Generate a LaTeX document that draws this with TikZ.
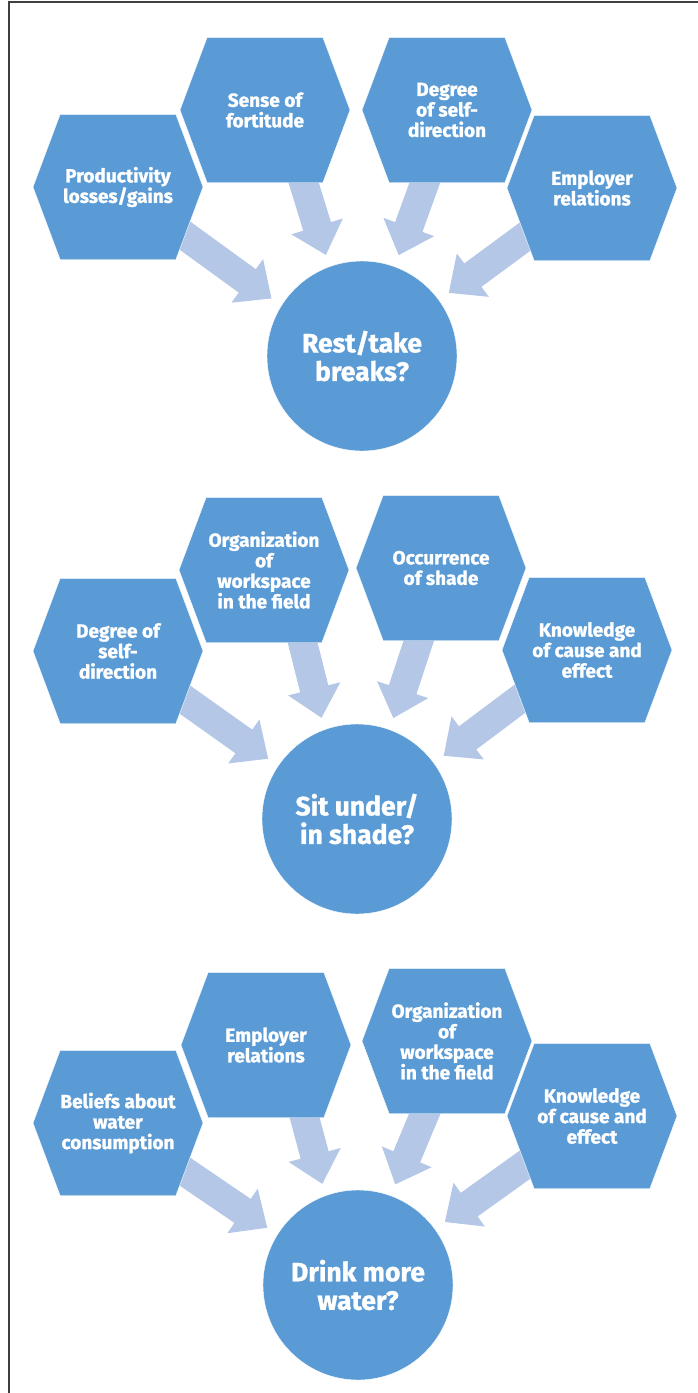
\documentclass[tikz,border=0pt]{standalone}
\usepackage{fontspec}
\setmainfont{Fira Sans}[BoldFeatures={FakeBold=1.2}]
\usetikzlibrary{shapes.symbols,arrows.meta,backgrounds}
\definecolor{hexblue}{RGB}{91,155,213}
\definecolor{arrowblue}{RGB}{180,199,231}
\tikzset{
  factor/.style={shape=signal, signal to=west and east, signal pointer angle=139, fill=hexblue, draw=white, thin, minimum width=170pt, minimum height=145pt, inner sep=0pt, text=white, align=center, font=\fontsize{19}{20.5}\selectfont\bfseries},
  behaviour/.style={shape=circle, fill=hexblue, draw=white, thin, minimum size=190pt, inner sep=0pt, text=white, align=center, font=\fontsize{26.5}{28.5}\selectfont\bfseries},
  push/.style={line width=29pt, draw=arrowblue, -{Triangle[width=52pt,length=30pt]}, shorten <=-12pt, shorten >=12pt}
}
\begin{document}
\begin{tikzpicture}[x=1pt, y=-1pt]
\useasboundingbox (0,0) rectangle (698,1393);
\draw[line width=1.8pt, draw=black!75] (9,1393) -- (9,2) -- (698,2);
% rest / take breaks
\node[factor] (prod1) at (118,187) {Productivity\\losses/gains};
\node[factor] (fort1) at (265,110) {Sense of\\fortitude};
\node[factor] (self1) at (447,110) {Degree\\of self-\\direction};
\node[factor] (empl1) at (592,188) {Employer\\relations};
\node[behaviour] (rest) at (362,356) {Rest/take\\breaks?};
% sit under / in shade
\node[factor] (self2) at (118,651) {Degree of\\self-\\direction};
\node[factor] (orga2) at (264,570) {Organization\\of\\workspace\\in the field};
\node[factor] (occu2) at (441,568) {Occurrence\\of shade};
\node[factor] (know2) at (587,650) {Knowledge\\of cause and\\effect};
\node[behaviour] (shade) at (357,819) {Sit under/\\in shade?};
% drink more water
\node[factor] (beli3) at (118,1123) {Beliefs about\\water\\consumption};
\node[factor] (empl3) at (266,1045) {Employer\\relations};
\node[factor] (orga3) at (447,1041) {Organization\\of\\workspace\\in the field};
\node[factor] (know3) at (592,1116) {Knowledge\\of cause and\\effect};
\node[behaviour] (drink) at (358,1285) {Drink more\\water?};
\begin{scope}[on background layer]
\draw[push] (prod1.-36) -- (rest.148);
\draw[push] (fort1.-62) -- (rest.110);
\draw[push] (self1.253) -- (rest.70);
\draw[push] (empl1.216) -- (rest.36);
\draw[push] (self2.-36) -- (shade.146);
\draw[push] (orga2.-62) -- (shade.110);
\draw[push] (occu2.253) -- (shade.70);
\draw[push] (know2.216) -- (shade.36);
\draw[push] (beli3.-36) -- (drink.148);
\draw[push] (empl3.-62) -- (drink.110);
\draw[push] (orga3.253) -- (drink.70);
\draw[push] (know3.216) -- (drink.36);
\end{scope}
\end{tikzpicture}
\end{document}
